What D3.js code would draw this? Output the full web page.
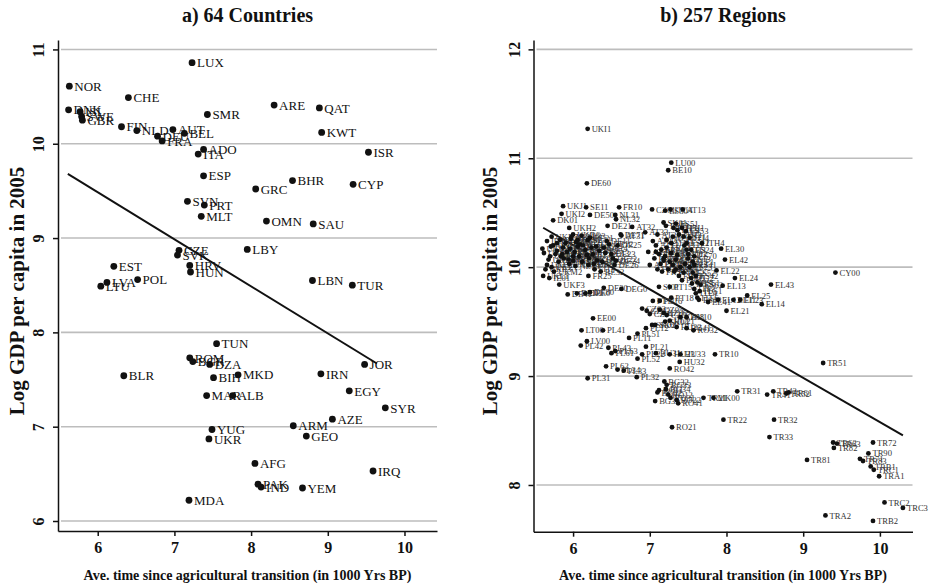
<!DOCTYPE html>
<html>
<head>
<meta charset="utf-8">
<script src="https://cdn.jsdelivr.net/npm/d3@7"></script>
<style>
  body { margin: 0; background: #fff; }
  svg text { font-family: "Liberation Serif", "Times New Roman", serif; }
</style>
</head>
<body>
<svg id="chart" width="931" height="584"></svg>
<script>
// ---- panel a) countries ----
const countries = [
  "LUX","NOR","CHE","DNK","ISL","SWE","GBR","FIN","NLD","AUT",
  "DEU","FRA","BEL","ADO","ITA","ESP","SMR","ARE","QAT","KWT",
  "ISR","GRC","BHR","CYP","SVN","PRT","MLT","OMN","SAU","LBY",
  "CZE","SVK","HRV","HUN","EST","LVA","LTU","POL","LBN","TUR",
  "TUN","ROM","BGR","DZA","BIH","MKD","MAR","ALB","IRN","JOR",
  "EGY","SYR","AZE","ARM","GEO","YUG","UKR","AFG","PAK","IND",
  "YEM","IRQ","MDA","BLR"
];
const countryAge = [
  7.23,5.63,6.40,5.62,5.77,5.79,5.80,6.31,6.51,6.98,
  6.78,6.84,7.13,7.38,7.31,7.38,7.43,8.30,8.89,8.92,
  9.53,8.06,8.54,9.33,7.17,7.39,7.35,8.20,8.81,7.95,
  7.06,7.04,7.20,7.21,6.21,6.12,6.04,6.52,8.80,9.32,
  7.55,7.20,7.24,7.46,7.51,7.83,7.42,7.76,8.91,9.48,
  9.28,9.75,9.06,8.55,8.72,7.49,7.45,8.05,8.09,8.13,
  8.67,9.59,7.19,6.34
];
const countryGdp = [
  10.86,10.61,10.49,10.36,10.34,10.29,10.25,10.18,10.14,10.15,
  10.08,10.03,10.11,9.94,9.89,9.66,10.31,10.41,10.38,10.12,
  9.91,9.52,9.61,9.57,9.39,9.35,9.23,9.18,9.15,8.88,
  8.87,8.82,8.71,8.64,8.70,8.53,8.49,8.56,8.55,8.50,
  7.88,7.73,7.69,7.66,7.52,7.55,7.33,7.33,7.56,7.66,
  7.38,7.20,7.08,7.01,6.90,6.97,6.87,6.61,6.39,6.36,
  6.35,6.53,6.22,7.54
];
const fitAgeA = [5.61, 9.64];
const fitGdpA = [9.68, 7.67];

// ---- panel b) regions ----
const regions = [
  "UKI1","LU00","BE10","DE60","UKJ1","SE11","FR10","CZ01","ES30","ITC4",
  "AT13","UKI2","DE50","NL31","NL32","DK01","UKH2","UKD6","UKK2","AT32",
  "AT31","SK01",
  "EL11","EL12","EL13","EL14","EL21","EL22","EL23","EL24","EL25","EL30",
  "EL41","EL42","EL43","CY00","MK00",
  "TR10","TR21","TR22","TR31","TR32","TR33","TR41","TR42","TR51","TR52",
  "TR61","TR62","TR63","TR71","TR72","TR81","TR82","TR83","TR90","TRA1",
  "TRA2","TRB1","TRB2","TRC1","TRC2","TRC3",
  "EE00","LT00","LV00","PL11","PL12","PL21","PL22","PL31","PL32","PL33",
  "PL34","PL41","PL42","PL43","PL51","PL52","PL61","PL62","PL63","CZ02",
  "CZ03","CZ04","CZ05","CZ06","CZ07","CZ08","SK02","SK03","SK04","HU10",
  "HU21","HU22","HU23","HU31","HU32","HU33","RO11","RO12","RO21","RO22",
  "RO31","RO32","RO41","RO42","BG31","BG32","BG33","BG34","BG41","BG42",
  "SI01","SI02",
  "AT11","AT12","AT21","AT22","AT33","AT34",
  "ITC1","ITC2","ITC3","ITH1","ITH2","ITH3","ITH4","ITH5","ITI1","ITI2",
  "ITI3","ITI4","ITF1","ITF2","ITF3","ITF4","ITF5","ITF6","ITG1","ITG2",
  "FR21","FR22","FR23","FR24","FR26","FR30","FR41","FR42","FR43","FR51",
  "FR52","FR53","FR61","FR62","FR63","FR71","FR72","FR81","FR82","FR83",
  "ES11","ES12","ES13","ES21","ES22","ES23","ES24","ES41","ES42","ES43",
  "ES51","ES52","ES53","ES61","ES62","ES70",
  "PT11","PT16","PT15","PT17","PT18",
  "UKC1","UKC2","UKD1","UKD2","UKD3","UKD4","UKD5","UKE1","UKE2","UKE3",
  "UKE4","UKF1","UKF2","UKF3","UKG1","UKG2","UKH1","UKJ2","UKJ3","UKK1",
  "UKL1","UKM2","IE01","IE02","DK02","DK03","DK04","SE12","SE21","SE22",
  "SE23","SE31","FI13","FI18","FI19","NL11","NL12","NL13","NL21","NL22",
  "NL23","NL33","NL41","BE21","BE22","BE23","BE24","BE25","BE31","BE32",
  "BE33","DE11","DE12","DE13","DE14","DE21","DE22","DE23","DE24","DE25",
  "DE26","DEE0","DE30","DE41","DE71","DEG0","DE80","DE91","DE92","DEA1",
  "DEA2","DEA3","DED1","DEF0","FR25"
];
const regionAge = [
  6.19,7.28,7.24,6.18,5.87,6.17,6.60,7.03,7.20,7.27,
  7.43,5.85,6.22,6.55,6.56,5.74,5.95,6.00,5.72,6.77,
  6.63,7.18,
  8.09,7.89,7.95,8.46,8.00,7.87,8.18,8.11,8.27,7.93,
  7.76,7.98,8.58,9.42,7.83,
  7.85,7.70,7.96,8.14,8.62,8.56,8.53,8.61,9.26,8.78,
  8.81,9.39,9.44,9.74,9.91,9.05,9.40,9.78,9.85,9.99,
  9.29,9.88,9.91,9.92,10.06,10.30,
  6.26,6.11,6.18,6.73,6.95,6.95,6.90,6.19,6.83,6.66,
  6.58,6.39,6.10,6.46,6.84,6.84,6.50,6.43,6.55,6.90,
  6.96,7.00,7.13,7.18,7.22,7.40,7.03,7.07,7.20,7.48,
  7.26,7.35,7.26,7.08,7.39,7.40,7.12,7.24,7.29,7.35,
  7.27,7.57,7.37,7.26,7.07,7.19,7.22,7.21,7.48,7.10,
  7.12,7.18,
  7.00,7.08,6.98,7.04,6.94,7.10,
  7.30,7.36,7.22,7.42,7.38,7.28,7.68,7.31,7.45,7.50,
  7.48,7.52,7.56,7.44,7.58,7.60,7.55,7.62,7.65,7.54,
  7.12,7.18,7.08,7.15,7.20,7.06,7.14,7.22,7.10,7.26,
  7.30,7.16,7.34,7.28,7.24,7.21,7.32,7.38,7.36,7.42,
  7.40,7.46,7.50,7.44,7.48,7.52,7.54,7.58,7.60,7.64,
  7.34,7.56,7.47,7.62,7.66,7.58,
  7.04,7.13,7.26,7.34,7.28,
  5.66,5.70,5.62,5.74,5.79,5.68,5.81,5.72,5.77,5.64,
  5.84,5.88,5.92,5.82,5.87,5.95,5.90,6.04,5.97,5.60,
  5.61,5.75,5.69,5.66,5.79,5.83,5.71,6.08,6.12,6.16,
  6.06,6.20,6.28,6.24,6.31,5.98,6.00,6.03,6.09,6.13,
  6.18,6.11,6.19,6.22,6.26,6.30,6.21,6.34,6.27,6.36,
  6.38,6.44,6.47,6.42,6.40,6.45,6.52,6.50,6.56,6.58,
  6.54,6.16,6.40,5.93,6.62,6.63,6.22,6.02,6.06,5.96,
  6.00,5.94,6.05,5.86,6.20
];
const regionGdp = [
  11.27,10.96,10.89,10.77,10.56,10.55,10.55,10.53,10.52,10.53,
  10.53,10.49,10.48,10.48,10.44,10.43,10.36,10.30,10.28,10.37,
  10.29,10.41,
  9.70,9.70,9.83,9.66,9.60,9.97,9.70,9.90,9.74,10.17,
  9.68,10.07,9.84,9.95,8.80,
  9.20,8.80,8.60,8.86,8.60,8.44,8.83,8.86,9.12,8.84,
  8.85,8.39,8.38,8.24,8.39,8.23,8.34,8.22,8.29,8.08,
  7.72,8.17,7.67,8.14,7.84,7.79,
  9.53,9.42,9.32,9.35,9.44,9.27,9.20,8.98,8.99,9.05,
  9.06,9.42,9.28,9.26,9.39,9.16,9.21,9.09,9.23,9.62,
  9.60,9.57,9.61,9.58,9.56,9.54,9.47,9.47,9.50,9.54,
  9.51,9.45,9.20,9.21,9.13,9.20,8.87,8.83,8.53,8.78,
  8.80,9.42,8.75,9.07,8.77,8.95,8.92,8.88,9.44,8.85,
  9.82,10.06,
  10.02,10.20,10.14,10.24,10.32,10.30,
  10.28,10.34,10.25,10.36,10.30,10.22,10.22,10.36,10.20,10.12,
  10.16,10.27,10.05,9.95,9.80,9.76,9.85,9.72,9.78,9.90,
  10.12,10.08,10.14,10.16,10.10,10.08,10.03,10.18,9.98,10.05,
  10.02,9.96,10.07,10.13,9.98,10.38,9.96,9.92,10.11,9.88,
  10.00,10.03,10.08,10.28,10.22,10.00,10.16,10.02,9.92,9.70,
  10.40,9.95,10.33,9.86,9.84,10.10,
  9.69,9.69,9.82,9.98,9.72,
  10.02,10.10,10.13,10.20,10.15,10.07,10.05,10.00,10.12,9.98,
  10.10,10.08,10.14,9.84,10.18,10.03,10.22,10.23,10.26,10.17,
  9.92,9.96,9.90,10.24,10.22,10.25,10.19,10.10,10.05,10.16,
  10.19,10.02,9.98,10.18,10.06,10.28,10.06,10.01,10.21,10.20,
  10.11,10.29,10.25,10.27,10.12,10.19,10.08,10.15,10.03,9.96,
  10.05,10.24,10.21,10.13,10.18,10.38,10.08,10.12,10.06,10.20,
  10.02,9.76,9.81,9.75,10.30,9.80,9.77,10.14,10.25,10.17,
  10.10,10.07,9.76,10.12,9.92
];
const fitAgeB = [5.61, 10.30];
const fitGdpB = [10.362, 8.455];

const xTicks = [6, 7, 8, 9, 10];
const yTicksA = [6, 7, 8, 9, 10, 11];
const yTicksB = [8, 9, 10, 11, 12];

const svg = d3.select("#chart");

function drawPanel(p) {
  const x = d3.scaleLinear().domain(p.xDomain).range([p.left, p.right]);
  const y = d3.scaleLinear().domain(p.yDomain).range([p.bottom, p.top]);
  const g = svg.append("g");

  // horizontal grid
  g.selectAll("line.grid").data(p.yTicks).join("line")
    .attr("class", "grid")
    .attr("x1", p.left + 3).attr("x2", p.right)
    .attr("y1", d => y(d)).attr("y2", d => y(d))
    .attr("stroke", "#bdbdbd").attr("stroke-width", 1.6);

  // x axis
  const gx = g.append("g").attr("transform", `translate(0,${p.bottom})`)
    .call(d3.axisBottom(x).tickValues(xTicks).tickSize(5).tickSizeOuter(0).tickPadding(6).tickFormat(d3.format("d")));
  gx.select(".domain").attr("stroke", "#111").attr("stroke-width", 1.5);
  gx.selectAll(".tick line").attr("stroke", "#111").attr("stroke-width", 1.5);
  gx.selectAll("text").attr("font-size", 16).attr("font-weight", "bold")
    .attr("font-family", "Liberation Serif").attr("fill", "#111");

  // y axis with rotated labels
  const gy = g.append("g").attr("transform", `translate(${p.left},0)`)
    .call(d3.axisLeft(y).tickValues(p.yTicks).tickSize(5).tickSizeOuter(0).tickFormat(d3.format("d")));
  gy.select(".domain").attr("stroke", "#111").attr("stroke-width", 1.5);
  gy.selectAll(".tick line").attr("stroke", "#111").attr("stroke-width", 1.5);
  gy.selectAll("text")
    .attr("x", 0).attr("y", -14).attr("dy", 0)
    .attr("text-anchor", "middle").attr("transform", "rotate(-90)")
    .attr("font-size", 16).attr("font-weight", "bold")
    .attr("font-family", "Liberation Serif").attr("fill", "#111");

  // fit line
  const line = d3.line().x(d => x(d[0])).y(d => y(d[1]));
  g.append("path")
    .attr("d", line(d3.zip(p.fitAge, p.fitGdp)))
    .attr("stroke", "#111").attr("stroke-width", 2).attr("fill", "none");

  // points and labels
  const pts = d3.range(p.names.length);
  g.selectAll("text.lab").data(pts).join("text")
    .attr("class", "lab")
    .attr("x", i => x(p.ages[i]) + p.dx)
    .attr("y", i => y(p.gdps[i]))
    .attr("dy", "0.36em")
    .attr("font-size", p.labelSize)
    .attr("fill", p.labelColor)
    .text(i => p.names[i]);
  g.selectAll("circle.pt").data(pts).join("circle")
    .attr("class", "pt")
    .attr("cx", i => x(p.ages[i]))
    .attr("cy", i => y(p.gdps[i]))
    .attr("r", p.r)
    .attr("fill", "#111");

  const cx = (p.left + p.right) / 2;
  g.append("text").attr("x", cx).attr("y", 22)
    .attr("text-anchor", "middle").attr("font-size", 20).attr("font-weight", "bold")
    .attr("fill", "#111").text(p.title);
  g.append("text").attr("x", cx).attr("y", 580)
    .attr("text-anchor", "middle").attr("font-size", 14).attr("font-weight", "bold")
    .attr("fill", "#111").text("Ave. time since agricultural transition (in 1000 Yrs BP)");
  g.append("text")
    .attr("transform", `translate(${p.yTitleX},291) rotate(-90)`)
    .attr("text-anchor", "middle").attr("font-size", 21).attr("font-weight", "bold")
    .attr("fill", "#111").text("Log GDP per capita in 2005");
}

drawPanel({
  title: "a) 64 Countries",
  left: 58, right: 437, top: 40, bottom: 531,
  xDomain: [5.482, 10.424], yDomain: [5.894, 11.1],
  yTicks: yTicksA, yTitleX: 24,
  names: countries, ages: countryAge, gdps: countryGdp,
  fitAge: fitAgeA, fitGdp: fitGdpA,
  r: 3.4, dx: 5, labelSize: 13, labelColor: "#111"
});

drawPanel({
  title: "b) 257 Regions",
  left: 533.5, right: 912.5, top: 40, bottom: 531.7,
  xDomain: [5.484, 10.425], yDomain: [7.571, 12.086],
  yTicks: yTicksB, yTitleX: 497,
  names: regions, ages: regionAge, gdps: regionGdp,
  fitAge: fitAgeB, fitGdp: fitGdpB,
  r: 2.4, dx: 4, labelSize: 8.6, labelColor: "#333"
});
</script>
</body>
</html>
